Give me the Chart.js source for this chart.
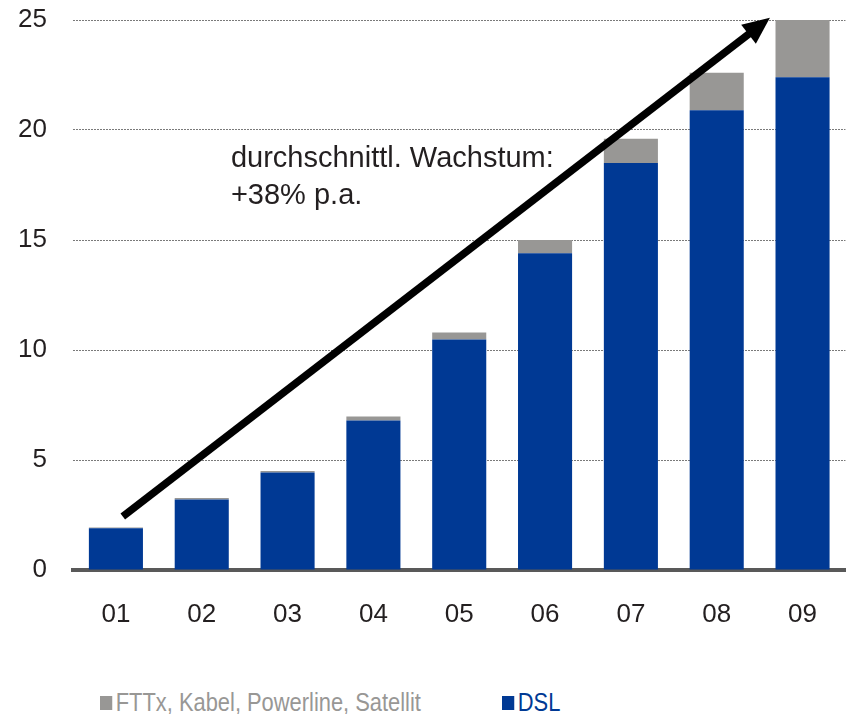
<!DOCTYPE html>
<html>
<head>
<meta charset="utf-8">
<script src="https://cdn.jsdelivr.net/npm/chart.js@4"></script>
<style>
  body { margin: 0; background: #fff; }
  #wrap { position: relative; width: 846px; height: 714px; font-family: "Liberation Sans", Arial, sans-serif; }
  #legend { position: absolute; left: 0; top: 688px; width: 846px; height: 28px; font-size: 25px; }
  .item { position: absolute; top: 0; white-space: nowrap; transform: scaleX(0.875); transform-origin: 0 0; }
  .box { display: inline-block; width: 14px; height: 14px; margin-right: 4px; vertical-align: 1px; }
</style>
</head>
<body>
<div id="wrap">
  <canvas id="chart" width="846" height="650"></canvas>
  <div id="legend"></div>
</div>
<script>
// years 2001 - 2009
const years = ['01', '02', '03', '04', '05', '06', '07', '08', '09'];
const dsl = [1.9, 3.2, 4.43, 6.8, 10.48, 14.4, 18.5, 20.9, 22.4];
const other = [0.03, 0.07, 0.07, 0.18, 0.32, 0.6, 1.1, 1.7, 2.6];
const yTicks = [0, 5, 10, 15, 20, 25];

const blue = '#003994';
const grey = '#989795';

// trend arrow, in category index / value units
const arrowStart = [0.08, 2.43];
const arrowEnd = [7.62, 25.1];
const noteAt = [1.34, 18.3];
const noteLines = ['durchschnittl. Wachstum:', '+38% p.a.'];

const font = '"Liberation Sans", Arial, sans-serif';

const arrowPlugin = {
  id: 'arrow',
  afterDatasetsDraw(chart) {
    const ctx = chart.ctx;
    const x = chart.scales.x, y = chart.scales.y;
    const x1 = x.getPixelForValue(arrowStart[0]), y1 = y.getPixelForValue(arrowStart[1]);
    const x2 = x.getPixelForValue(arrowEnd[0]), y2 = y.getPixelForValue(arrowEnd[1]);
    const ang = Math.atan2(y2 - y1, x2 - x1);
    const headLen = 27, headW = 12;
    const bx = x2 - headLen * Math.cos(ang), by = y2 - headLen * Math.sin(ang);
    ctx.save();
    ctx.strokeStyle = '#000';
    ctx.fillStyle = '#000';
    ctx.lineWidth = 7.5;
    ctx.beginPath();
    ctx.moveTo(x1, y1);
    ctx.lineTo(bx + 2 * Math.cos(ang), by + 2 * Math.sin(ang));
    ctx.stroke();
    ctx.beginPath();
    ctx.moveTo(x2, y2);
    ctx.lineTo(bx + headW * Math.sin(ang), by - headW * Math.cos(ang));
    ctx.lineTo(bx - headW * Math.sin(ang), by + headW * Math.cos(ang));
    ctx.closePath();
    ctx.fill();

    // note text
    ctx.fillStyle = '#231f20';
    ctx.font = '29px ' + font;
    ctx.textAlign = 'left';
    ctx.textBaseline = 'alphabetic';
    const tx = x.getPixelForValue(noteAt[0]), ty = y.getPixelForValue(noteAt[1]);
    noteLines.forEach((t, i) => ctx.fillText(t, tx, ty + i * 37));
    ctx.restore();
  }
};

new Chart(document.getElementById('chart'), {
  type: 'bar',
  data: {
    labels: years,
    datasets: [
      { label: 'DSL', data: dsl, backgroundColor: blue, borderWidth: 0 },
      { label: 'FTTx, Kabel, Powerline, Satellit', data: other, backgroundColor: grey, borderWidth: 0 }
    ]
  },
  options: {
    responsive: false,
    animation: false,
    devicePixelRatio: 1,
    categoryPercentage: 1,
    barPercentage: 0.63,
    layout: { padding: 0 },
    plugins: { legend: { display: false }, tooltip: { enabled: false } },
    scales: {
      x: {
        stacked: true,
        grid: { display: false, drawTicks: false },
        border: { color: '#595959', width: 4 },
        ticks: { color: '#231f20', font: { size: 26, family: font }, padding: 29 },
        afterFit(s) { s.height = 80; }
      },
      y: {
        stacked: true,
        min: 0,
        max: 25,
        afterBuildTicks(s) { s.ticks = yTicks.map(v => ({ value: v })); },
        grid: {
          drawTicks: false,
          color: ctx => ctx.tick && ctx.tick.value === 0 ? 'rgba(0,0,0,0)' : '#7a7a7a',
          lineWidth: 1
        },
        border: { display: false, dash: [2, 1] },
        ticks: { color: '#231f20', font: { size: 26, family: font }, padding: 26 },
        afterFit(s) {
          s.width = 73;
          s.paddingTop = 20;
          s.paddingBottom = 0;
        }
      }
    }
  },
  plugins: [arrowPlugin]
});

// legend
const legendItems = [
  { text: 'FTTx, Kabel, Powerline, Satellit', color: grey, left: 100 },
  { text: 'DSL', color: blue, left: 502 }
];
const lg = document.getElementById('legend');
legendItems.forEach(it => {
  const d = document.createElement('div');
  d.className = 'item';
  d.style.left = it.left + 'px';
  d.style.color = it.color;
  const b = document.createElement('span');
  b.className = 'box';
  b.style.background = it.color;
  d.appendChild(b);
  d.appendChild(document.createTextNode(it.text));
  lg.appendChild(d);
});
</script>
</body>
</html>
